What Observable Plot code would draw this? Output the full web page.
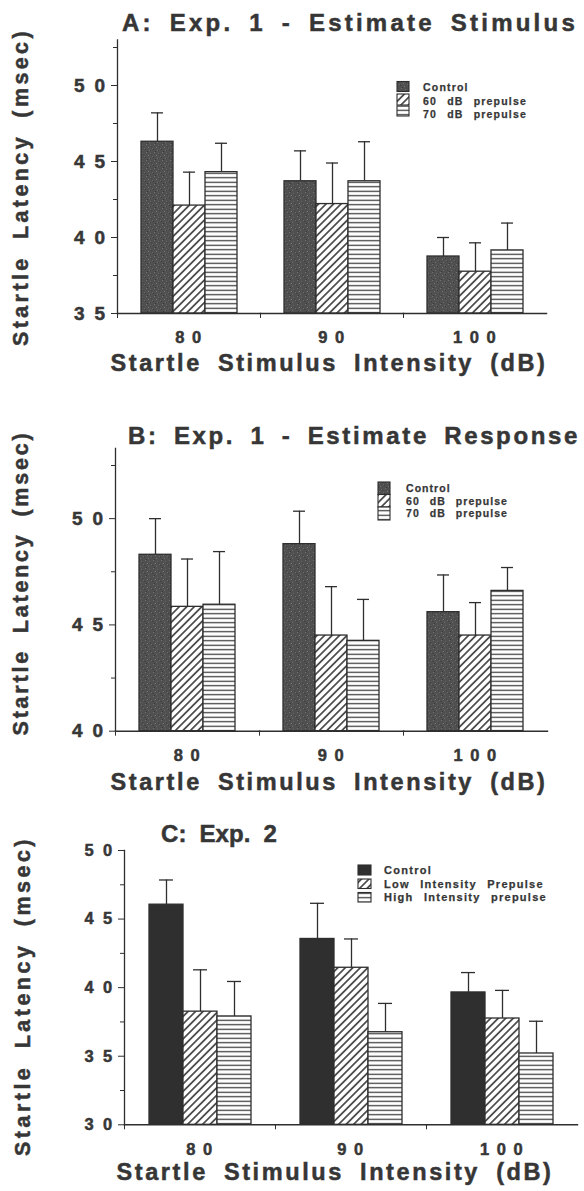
<!DOCTYPE html>
<html><head><meta charset="utf-8">
<script src="https://cdn.jsdelivr.net/npm/d3@7"></script>
<script src="https://cdn.jsdelivr.net/npm/@observablehq/plot@0.6"></script>
<style>
body{margin:0;background:#fff;}
#root{position:relative;width:584px;height:1191px;overflow:hidden;font-family:"Liberation Sans",Arial,sans-serif;font-weight:bold;color:#363636;}
.t{position:absolute;white-space:nowrap;line-height:1;-webkit-text-stroke:0.5px #363636;}
.t.small{-webkit-text-stroke:0.25px #363636;}
.panel{position:absolute;left:0;}
.panel svg g[aria-label="y-axis tick label"] text{letter-spacing:2.4px;stroke:#363636;stroke-width:0.5px;}
.panel svg g[aria-label="fx-axis tick label"] text{letter-spacing:1.5px;stroke:#363636;stroke-width:0.5px;}
</style></head><body>
<svg width="0" height="0" style="position:absolute">
<defs>
<pattern id="stip" width="8" height="8" patternUnits="userSpaceOnUse">
<rect width="8" height="8" fill="#505050"/>
<rect x="1" y="0" width="1" height="1" fill="#707070"/>
<rect x="5" y="1" width="1" height="1" fill="#6a6a6a"/>
<rect x="3" y="3" width="1" height="1" fill="#777"/>
<rect x="7" y="4" width="1" height="1" fill="#686868"/>
<rect x="0" y="5" width="1" height="1" fill="#3c3c3c"/>
<rect x="4" y="6" width="1" height="1" fill="#727272"/>
<rect x="2" y="7" width="1" height="1" fill="#3a3a3a"/>
<rect x="6" y="2" width="1" height="1" fill="#404040"/>
</pattern>
<pattern id="solid" width="4" height="4" patternUnits="userSpaceOnUse">
<rect width="4" height="4" fill="#2f2f2f"/>
</pattern>
<pattern id="diag" width="5.3" height="5.3" patternUnits="userSpaceOnUse" patternTransform="rotate(45)">
<rect width="5.3" height="5.3" fill="#fff"/>
<line x1="2.65" y1="0" x2="2.65" y2="5.3" stroke="#2e2e2e" stroke-width="1.5"/>
</pattern>
<pattern id="horiz" width="8" height="4.5" patternUnits="userSpaceOnUse">
<rect width="8" height="4.5" fill="#fff"/>
<line x1="0" y1="2.25" x2="8" y2="2.25" stroke="#333" stroke-width="1.2"/>
</pattern>
</defs>
</svg>
<div id="root"></div>
<script>
// ---------------- DATA ----------------
const intensities = ["80", "90", "100"];

// Panel A: Exp. 1 - Estimate Stimulus
const seriesA = ["Control", "60 dB prepulse", "70 dB prepulse"];
const controlA = [46.3, 43.7, 38.75];
const controlA_se = [1.9, 2.0, 1.25];
const pre60A = [42.1, 42.2, 37.75];
const pre60A_se = [2.2, 2.7, 1.9];
const pre70A = [44.3, 43.7, 39.15];
const pre70A_se = [1.9, 2.6, 1.8];

// Panel B: Exp. 1 - Estimate Response
const seriesB = ["Control", "60 dB prepulse", "70 dB prepulse"];
const controlB = [48.3, 48.8, 45.6];
const controlB_se = [1.7, 1.55, 1.75];
const pre60B = [45.85, 44.5, 44.5];
const pre60B_se = [2.25, 2.3, 1.55];
const pre70B = [45.95, 44.25, 46.6];
const pre70B_se = [2.5, 1.95, 1.1];

// Panel C: Exp. 2
const seriesC = ["Control", "Low Intensity Prepulse", "High Intensity prepulse"];
const controlC = [46.05, 43.55, 39.65];
const controlC_se = [1.8, 2.6, 1.45];
const lowC = [38.25, 41.45, 37.75];
const lowC_se = [3.05, 2.1, 2.05];
const highC = [37.9, 36.75, 35.2];
const highC_se = [2.55, 2.1, 2.35];

const yTicksA = [35, 40, 45, 50], yMinorA = [37.5, 42.5, 47.5, 52.5];
const yTicksB = [40, 45, 50], yMinorB = [42.5, 47.5, 52.5];
const yTicksC = [30, 35, 40, 45, 50], yMinorC = [32.5, 37.5, 42.5, 47.5];

const titleA = "A: Exp. 1 - Estimate Stimulus";
const titleB = "B: Exp. 1 - Estimate Response";
const titleC = "C: Exp. 2";
const yTitle = "Startle Latency (msec)";
const xTitle = "Startle Stimulus Intensity (dB)";

// ---------------- BUILD ----------------
function rows(series, means, ses) {
  const out = [];
  series.forEach((s, k) => intensities.forEach((g, i) =>
    out.push({intensity: g, series: s, mean: means[k][i], se: ses[k][i]})));
  return out;
}
const spaced = d => String(d).split("").join(" ");
const INK = "#2e2e2e";
const root = document.getElementById("root");

const panels = [
  {series: seriesA, data: rows(seriesA, [controlA, pre60A, pre70A], [controlA_se, pre60A_se, pre70A_se]),
   fills: ["url(#stip)", "url(#diag)", "url(#horiz)"],
   svgTop: 0, axisTop: 39.4, axisBottom: 313, left: 116, right: 547, yDomain: [35, 53],
   major: yTicksA, minor: yMinorA, yFont: 19, xFont: 16.5, xPad: 18},
  {series: seriesB, data: rows(seriesB, [controlB, pre60B, pre70B], [controlB_se, pre60B_se, pre70B_se]),
   fills: ["url(#stip)", "url(#diag)", "url(#horiz)"],
   svgTop: 400, axisTop: 448, axisBottom: 730.7, left: 115, right: 547, yDomain: [40, 53.3],
   major: yTicksB, minor: yMinorB, yFont: 19, xFont: 16.5, xPad: 18},
  {series: seriesC, data: rows(seriesC, [controlC, lowC, highC], [controlC_se, lowC_se, highC_se]),
   fills: ["url(#solid)", "url(#diag)", "url(#horiz)"],
   svgTop: 820, axisTop: 850, axisBottom: 1124.3, left: 123, right: 577, yDomain: [30, 50],
   major: yTicksC, minor: yMinorC, yFont: 16.5, xFont: 16.5, xPad: 18}
];

for (const p of panels) {
  const mb = 40;
  const mt = p.axisTop - p.svgTop;
  const H = p.axisBottom - p.svgTop + mb;
  const innerH = H - mt - mb;
  const base = p.yDomain[0];
  const marks = [];
  p.series.forEach((s, k) => {
    marks.push(Plot.barY(p.data.filter(r => r.series === s), {
      fx: "intensity", x: "series", y1: base, y2: "mean",
      fill: p.fills[k], stroke: INK, strokeWidth: 1.3
    }));
  });
  marks.push(Plot.ruleX(p.data, {fx: "intensity", x: "series", y1: "mean", y2: d => d.mean + d.se, stroke: INK, strokeWidth: 1.3}));
  marks.push(Plot.tickY(p.data, {fx: "intensity", x: "series", y: d => d.mean + d.se, insetLeft: 10, insetRight: 10, stroke: INK, strokeWidth: 1.3}));
  marks.push(Plot.frame({anchor: "bottom", stroke: INK, strokeWidth: 1.4}));
  marks.push(Plot.frame({anchor: "left", insetTop: innerH, insetBottom: -4, stroke: INK, strokeWidth: 1}));
  marks.push(Plot.frame({anchor: "left", facetAnchor: "left", stroke: INK, strokeWidth: 1.3}));
  marks.push(Plot.axisY({ticks: p.major, tickFormat: spaced, tickSize: 6, tickPadding: 4, fontSize: p.yFont, label: null, stroke: INK}));
  marks.push(Plot.axisY({ticks: p.minor, tickSize: 4, fill: "none", label: null, stroke: INK}));
  marks.push(Plot.axisFx({anchor: "bottom", tickSize: 0, tickPadding: p.xPad, tickFormat: spaced, fontSize: p.xFont, label: null}));

  const svg = Plot.plot({
    width: 584, height: H,
    marginLeft: p.left, marginRight: 584 - p.right, marginTop: mt, marginBottom: mb,
    style: "font-family:'Liberation Sans',Arial,sans-serif;font-weight:bold;color:#383838;background:transparent;overflow:visible;",
    fx: {domain: intensities, padding: 0},
    x: {domain: p.series, paddingInner: 0, paddingOuter: 0.72, axis: null},
    y: {domain: p.yDomain},
    marks
  });
  const wrap = document.createElement("div");
  wrap.className = "panel";
  wrap.style.top = p.svgTop + "px";
  wrap.appendChild(svg);
  root.appendChild(wrap);
}

// ---------------- TEXT ----------------
function addText(str, {x, y, size, anchor = "start", rotate = 0, width = null, ws = 0, cls = ""}) {
  const el = document.createElement("div");
  el.className = "t" + (cls ? " " + cls : "");
  el.textContent = str;
  el.style.fontSize = size + "px";
  el.style.wordSpacing = ws + "px";
  root.appendChild(el);
  if (width) {
    const w = el.getBoundingClientRect().width;
    el.style.letterSpacing = ((width - w) / str.length) + "px";
  }
  el.style.left = x + "px";
  el.style.top = y + "px";
  const tx = anchor === "middle" ? "-50%" : "0";
  el.style.transform = `translate(${tx},-50%)` + (rotate ? ` rotate(${rotate}deg)` : "");
  return el;
}

addText(titleA, {x: 122, y: 22.5, size: 24, width: 456, ws: 6});
addText(titleB, {x: 128, y: 435.5, size: 24, width: 452, ws: 6});
addText(titleC, {x: 161, y: 834, size: 24, width: 116, ws: 6});

addText(yTitle, {x: 22, y: 187, size: 21.5, anchor: "middle", rotate: -90, width: 318, ws: 7});
addText(yTitle, {x: 22, y: 583, size: 21.5, anchor: "middle", rotate: -90, width: 305, ws: 7});
addText(yTitle, {x: 24, y: 996, size: 21.5, anchor: "middle", rotate: -90, width: 320, ws: 7});

addText(xTitle, {x: 329, y: 364, size: 23.5, anchor: "middle", width: 437, ws: 7});
addText(xTitle, {x: 329, y: 783, size: 23.5, anchor: "middle", width: 437, ws: 7});
addText(xTitle, {x: 335, y: 1173, size: 23.5, anchor: "middle", width: 437, ws: 7});

// ---------------- LEGENDS ----------------
function legend(series, fills, {swX, swW, sw, textX, rowYs, size, fitWidth}) {
  const s = d3.select(root).append("svg")
    .style("position", "absolute").style("left", "0px").style("top", "0px")
    .attr("width", 584).attr("height", 1191).style("pointer-events", "none");
  sw.forEach(([y0, y1], k) => {
    s.append("rect").attr("x", swX).attr("y", y0).attr("width", swW).attr("height", y1 - y0)
      .attr("fill", fills[k]).attr("stroke", INK).attr("stroke-width", 1.1);
  });
  const longest = series.reduce((a, b) => (b.length > a.length ? b : a));
  const probe = addText(longest, {x: -999, y: -999, size, ws: 6, cls: "small"});
  const w = probe.getBoundingClientRect().width;
  probe.remove();
  const ls = (fitWidth - w) / longest.length;
  series.forEach((name, k) => {
    const el = addText(name, {x: textX, y: rowYs[k], size, ws: 6, cls: "small"});
    el.style.letterSpacing = ls + "px";
  });
}

legend(seriesA, ["url(#stip)", "url(#diag)", "url(#horiz)"],
  {swX: 397, swW: 12, sw: [[81.5, 91.5], [94, 105], [106, 116]], textX: 423, rowYs: [86.5, 101, 113.5], size: 10.5, fitWidth: 104});
legend(seriesB, ["url(#stip)", "url(#diag)", "url(#horiz)"],
  {swX: 378, swW: 12, sw: [[482, 494.5], [494.5, 507], [507, 520]], textX: 406, rowYs: [488, 500.5, 513], size: 10.5, fitWidth: 102});
legend(seriesC, ["url(#solid)", "url(#diag)", "url(#horiz)"],
  {swX: 358, swW: 13, sw: [[865, 875], [879, 888.5], [892.5, 902]], textX: 384, rowYs: [870, 884, 897], size: 11, fitWidth: 163});
</script>
</body></html>
